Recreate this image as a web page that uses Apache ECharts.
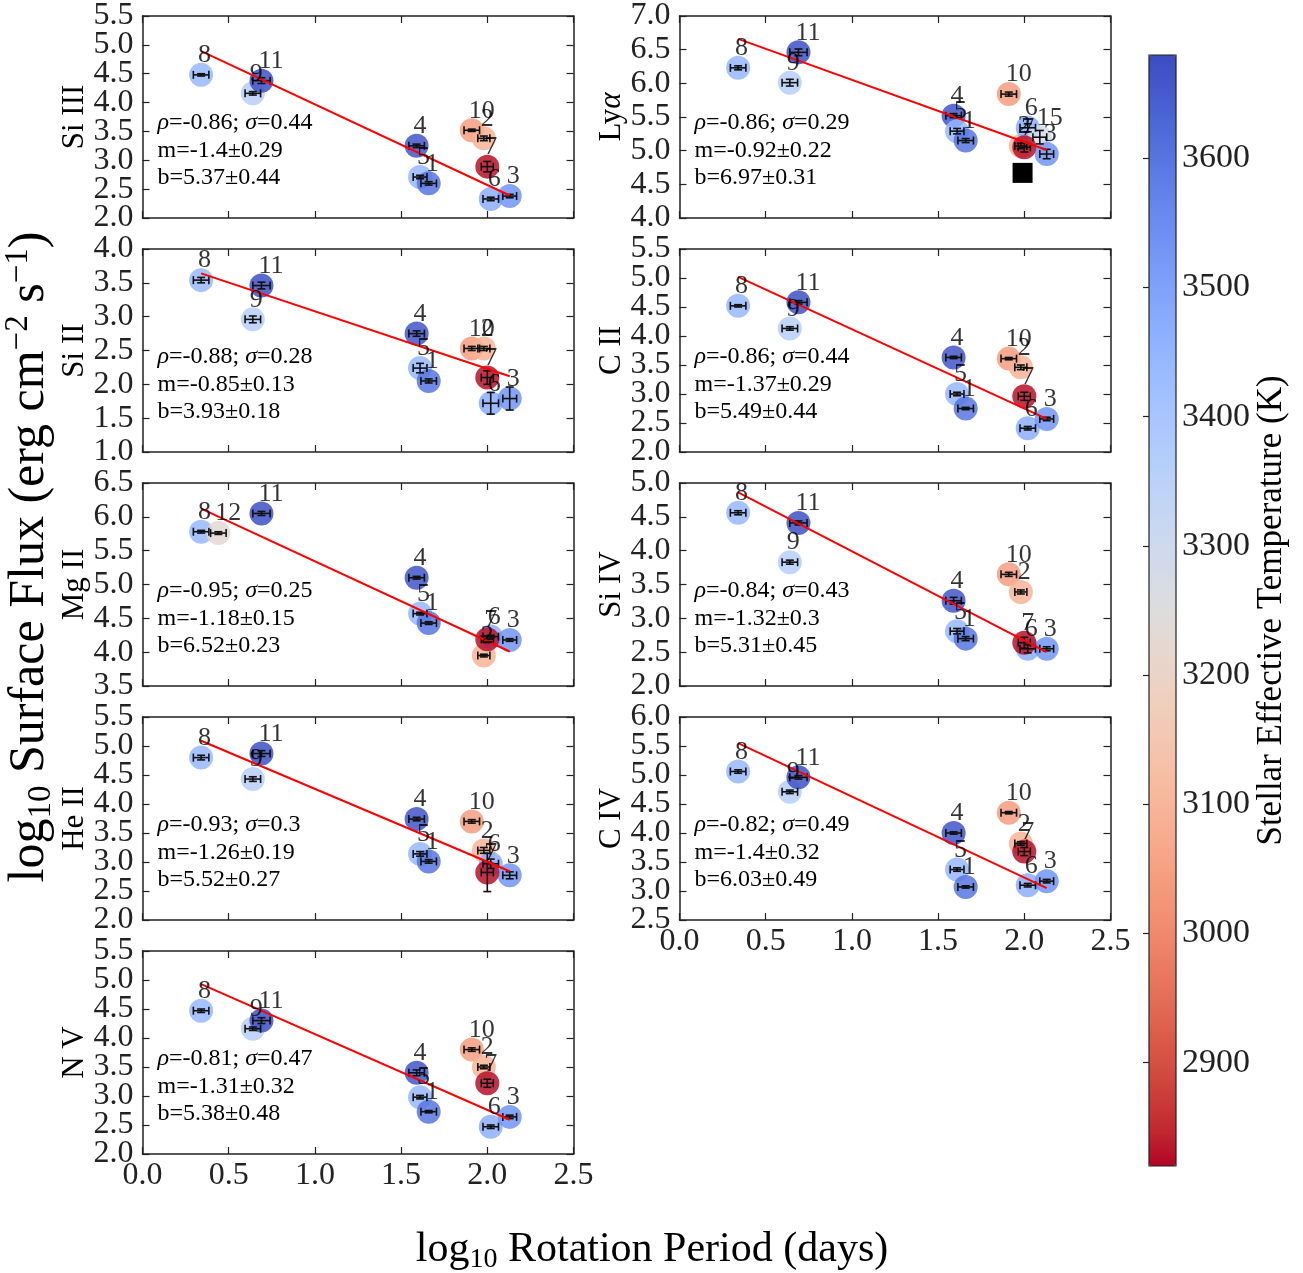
<!DOCTYPE html>
<html>
<head>
<meta charset="utf-8">
<script src="https://cdn.jsdelivr.net/npm/echarts@6/dist/echarts.min.js"></script>
<style>
html,body{margin:0;padding:0;background:#fff;}
#chart{width:1303px;height:1273px;}
</style>
</head>
<body>
<div id="chart"></div>
<script>
// ---------------- data ----------------
const starLabels   = ['8','12','9','11','4','5','1','10','2','6','15','3','7'];
const logPeriod    = [0.34,0.44,0.64,0.69,1.59,1.61,1.66,1.91,1.98,2.02,2.09,2.13,2.00];
const logPeriodErr = [0.045,0.045,0.045,0.05,0.045,0.04,0.045,0.045,0.035,0.045,0.04,0.04,0.035];
const teff         = [3440,3225,3360,3670,3660,3440,3600,3045,3095,3470,3285,3530,2830];

const fluxSiIII = [4.48,null,4.16,4.38,3.25,2.71,2.60,3.52,3.38,2.33,null,2.38,2.89];
const fluxSiII  = [3.54,null,2.96,3.46,2.75,2.24,2.05,2.53,2.53,1.72,null,1.79,2.10];
const fluxMgII  = [5.78,5.76,null,6.05,5.10,4.57,4.43,null,3.95,4.23,null,4.18,4.19];
const fluxHeII  = [4.80,null,4.43,4.87,3.74,3.14,3.01,3.70,3.20,2.97,null,2.77,2.82];
const fluxNV    = [4.47,null,4.16,4.30,3.40,2.98,2.73,3.80,3.50,2.47,null,2.64,3.22];
const fluxLya   = [6.23,null,6.01,6.46,5.52,5.29,5.15,5.84,5.07,5.34,5.20,4.95,5.05];
const fluxCII   = [4.52,null,4.13,4.58,3.63,3.00,2.75,3.61,3.46,2.41,null,2.57,2.96];
const fluxSiIV  = [4.56,null,3.83,4.41,3.26,2.81,2.70,3.65,3.39,2.55,null,2.55,2.64];
const fluxCIV   = [5.06,null,4.71,4.96,4.00,3.37,3.07,4.35,3.82,3.10,null,3.17,3.68];

const errSiIII = [0.02,null,0.03,0.05,0.03,0.03,0.03,0.02,0.04,0.03,null,0.03,0.09];
const errSiII  = [0.04,null,0.05,0.05,0.04,0.07,0.03,0.03,0.03,0.16,null,0.17,0.10];
const errMgII  = [0.02,0.02,null,0.03,0.02,0.02,0.02,null,0.02,0.02,null,0.02,0.05];
const errHeII  = [0.04,null,0.04,0.05,0.03,0.04,0.03,0.03,0.05,0.08,null,0.06,0.33];
const errNV    = [0.03,null,0.03,0.05,0.05,0.03,0.02,0.03,0.03,0.03,null,0.03,0.07];
const errLya   = [0.03,null,0.05,0.05,0.03,0.04,0.03,0.03,0.04,0.06,0.10,0.07,0.07];
const errCII   = [0.02,null,0.03,0.03,0.02,0.03,0.02,0.02,0.04,0.03,null,0.03,0.07];
const errSiIV  = [0.03,null,0.03,0.03,0.05,0.04,0.03,0.03,0.03,0.06,null,0.03,0.08];
const errCIV   = [0.03,null,0.03,0.03,0.02,0.03,0.02,0.02,0.03,0.03,null,0.03,0.07];

// reference point (black square) in the Ly-alpha panel
const refPeriod = [1.99];
const refLya    = [4.67];

// fitted lines: endpoints
const fitX      = [0.34, 2.13];
const fitSiIII  = [4.89, 2.39];
const fitSiII   = [3.64, 2.12];
const fitMgII   = [6.12, 4.01];
const fitHeII   = [5.09, 2.84];
const fitNV     = [4.93, 2.59];
const fitLya    = [6.66, 5.01];
const fitCII    = [5.02, 2.57];
const fitSiIV   = [4.86, 2.50];
const fitCIV    = [5.55, 3.05];

// panel texts / axis ranges
const panelNames = ['Si III','Si II','Mg II','He II','N V','Ly{a|α}','C II','Si IV','C IV'];
const panelYMin  = [2.0,1.0,3.5,2.0,2.0,4.0,2.0,2.0,2.5];
const panelYMax  = [5.5,4.0,6.5,5.5,5.5,7.0,5.5,5.0,6.0];
const rhoVals    = [-0.86,-0.88,-0.95,-0.93,-0.81,-0.86,-0.86,-0.84,-0.82];
const sigmaVals  = [0.44,0.28,0.25,0.3,0.47,0.29,0.44,0.43,0.49];
const slopeVals  = [-1.4,-0.85,-1.18,-1.26,-1.31,-0.92,-1.37,-1.32,-1.4];
const slopeErrs  = [0.29,0.13,0.15,0.19,0.32,0.22,0.29,0.3,0.32];
const icptVals   = [5.37,3.93,6.52,5.52,5.38,6.97,5.49,5.31,6.03];
const icptErrs   = [0.44,0.18,0.23,0.27,0.48,0.31,0.44,0.45,0.49];
const xTicksLabels = ['0.0','0.5','1.0','1.5','2.0','2.5'];
const yTickStep  = 0.5;
const cbarTicks  = [2900,3000,3100,3200,3300,3400,3500,3600];
const cbarMin = 2820, cbarMax = 3680;

const fluxByPanel = [fluxSiIII,fluxSiII,fluxMgII,fluxHeII,fluxNV,fluxLya,fluxCII,fluxSiIV,fluxCIV];
const errByPanel  = [errSiIII,errSiII,errMgII,errHeII,errNV,errLya,errCII,errSiIV,errCIV];
const fitByPanel  = [fitSiIII,fitSiII,fitMgII,fitHeII,fitNV,fitLya,fitCII,fitSiIV,fitCIV];

// coolwarm (Moreland) reversed: low temperature -> red, high -> blue
const coolwarm = ['#3b4cc0','#445acc','#4d68d7','#5775e1','#6282ea','#6c8ef1','#779af7','#82a5fb',
  '#8db0fe','#98b9ff','#a3c2ff','#aec9fd','#b8d0f9','#c2d5f4','#ccd9ee','#d5dbe6','#dddddd',
  '#e5d8d1','#ecd3c5','#f1ccb9','#f5c4ad','#f7bba0','#f7b194','#f7a687','#f49a7b','#f18d6f',
  '#ec7f63','#e57058','#de604d','#d55042','#cb3e38','#c0282f','#b40426'];
const coolwarmR = coolwarm.slice().reverse();

// ---------------- layout ----------------
const FONT = '"Liberation Serif","Times New Roman",serif';
const COL_LEFT = [142.5, 679.5];
const PANEL_W = 431, PANEL_H = 203, TOP0 = 15, PITCH = 234;
const AX = '#222';

const option = {
  animation: false,
  backgroundColor: '#ffffff',
  grid: [], xAxis: [], yAxis: [], series: [], graphic: []
};
const scatterIdx = [];

function renderErr(params, api) {
  const x = api.value(0), y = api.value(1), xe = api.value(2), ye = api.value(3);
  const c = api.coord([x, y]);
  const l = api.coord([x - xe, y]), r = api.coord([x + xe, y]);
  const t = api.coord([x, y + ye]), b = api.coord([x, y - ye]);
  const cap = 4;
  const st = {stroke: '#111', lineWidth: 1.6};
  return {type: 'group', children: [
    {type:'line', shape:{x1:l[0],y1:c[1],x2:r[0],y2:c[1]}, style:st},
    {type:'line', shape:{x1:l[0],y1:c[1]-cap,x2:l[0],y2:c[1]+cap}, style:st},
    {type:'line', shape:{x1:r[0],y1:c[1]-cap,x2:r[0],y2:c[1]+cap}, style:st},
    {type:'line', shape:{x1:c[0],y1:t[1],x2:c[0],y2:b[1]}, style:st},
    {type:'line', shape:{x1:c[0]-cap,y1:t[1],x2:c[0]+cap,y2:t[1]}, style:st},
    {type:'line', shape:{x1:c[0]-cap,y1:b[1],x2:c[0]+cap,y2:b[1]}, style:st}
  ]};
}

for (let p = 0; p < 9; p++) {
  const col = p < 5 ? 0 : 1;
  const row = p < 5 ? p : p - 5;
  const left = COL_LEFT[col];
  const top = TOP0 + PITCH * row;
  const bottomPanel = (p === 4 || p === 8);
  option.grid.push({left: left, top: top, width: PANEL_W, height: PANEL_H});

  const axLine = {show: true, onZero: false, lineStyle: {color: AX, width: 1.5}};
  const tick = {show: true, inside: true, length: 7, lineStyle: {color: AX, width: 1.2}};
  option.xAxis.push({
    type: 'value', gridIndex: p, position: 'bottom', min: 0, max: 2.5, interval: 0.5,
    axisLine: axLine, axisTick: tick, splitLine: {show: false},
    axisLabel: {show: bottomPanel, margin: 6, fontFamily: FONT, fontSize: 32, color: AX,
      showMinLabel: true, showMaxLabel: true,
      formatter: v => xTicksLabels[Math.round(v / 0.5)]}
  });
  option.xAxis.push({
    type: 'value', gridIndex: p, position: 'top', min: 0, max: 2.5, interval: 0.5,
    axisLine: axLine, axisTick: tick, splitLine: {show: false}, axisLabel: {show: false}
  });

  // y tick label values, split into two interleaved sets (each drawn by its own axis)
  const nT = Math.round((panelYMax[p] - panelYMin[p]) / yTickStep);
  const setA = [], setB = [];
  for (let k = 0; k <= nT; k++) {
    const v = +(panelYMin[p] + k * yTickStep).toFixed(2);
    (k % 2 === 0 ? setA : setB).push(v);
  }
  const yLab = (vals) => ({customValues: vals, margin: 9, fontFamily: FONT, fontSize: 32, color: AX,
      showMinLabel: true, showMaxLabel: true, formatter: v => v.toFixed(1)});

  option.yAxis.push({
    type: 'value', gridIndex: p, position: 'left', min: panelYMin[p], max: panelYMax[p], interval: yTickStep,
    axisLine: axLine, axisTick: tick, splitLine: {show: false},
    axisLabel: yLab(setA),
    name: panelNames[p], nameLocation: 'middle', nameGap: 52, nameRotate: 90, nameMoveOverlap: false,
    nameTextStyle: {fontFamily: FONT, fontSize: 31, color: '#000',
      rich: {a: {fontFamily: FONT, fontSize: 31, fontStyle: 'italic', color: '#000'}}}
  });
  option.yAxis.push({
    type: 'value', gridIndex: p, position: 'left', offset: 0, min: panelYMin[p], max: panelYMax[p], interval: yTickStep,
    axisLine: {show: false}, axisTick: {show: false}, splitLine: {show: false},
    axisLabel: yLab(setB)
  });
  option.yAxis.push({
    type: 'value', gridIndex: p, position: 'right', min: panelYMin[p], max: panelYMax[p], interval: yTickStep,
    axisLine: axLine, axisTick: tick, splitLine: {show: false}, axisLabel: {show: false}
  });
  const yi = 3 * p;

  const flux = fluxByPanel[p], ferr = errByPanel[p];
  const idx = [];
  for (let i = 0; i < starLabels.length; i++) if (flux[i] !== null) idx.push(i);

  scatterIdx.push(option.series.length);
  option.series.push({
    type: 'scatter', xAxisIndex: 2 * p, yAxisIndex: yi, z: 2, silent: true,
    symbolSize: 24, itemStyle: {opacity: 0.85},
    data: idx.map(i => ({value: [logPeriod[i], flux[i], teff[i]], name: starLabels[i]}))
  });
  if (p === 5) {
    option.series.push({
      type: 'scatter', xAxisIndex: 2 * p, yAxisIndex: yi, z: 3, silent: true,
      symbol: 'rect', symbolSize: 20, itemStyle: {color: '#000', opacity: 1},
      data: refPeriod.map((x, k) => [x, refLya[k]])
    });
  }
  option.series.push({
    type: 'custom', xAxisIndex: 2 * p, yAxisIndex: yi, z: 3, silent: true,
    renderItem: renderErr, encode: {x: 0, y: 1},
    data: idx.map(i => [logPeriod[i], flux[i], logPeriodErr[i], ferr[i]])
  });
  option.series.push({
    type: 'line', xAxisIndex: 2 * p, yAxisIndex: yi, z: 4, silent: true,
    symbol: 'none', lineStyle: {color: '#ff0000', width: 2},
    data: fitX.map((x, k) => [x, fitByPanel[p][k]])
  });
  option.series.push({
    type: 'scatter', xAxisIndex: 2 * p, yAxisIndex: yi, z: 5, silent: true,
    symbolSize: 1, itemStyle: {color: 'rgba(0,0,0,0)'},
    label: {show: true, formatter: '{b}', position: [-2.5, -19], align: 'left', verticalAlign: 'middle',
      fontFamily: FONT, fontSize: 26, color: '#000'},
    data: idx.map(i => ({value: [logPeriod[i], flux[i]], name: starLabels[i]}))
  });

  // statistics text
  const tx = left + 15;
  const lines = [
    '{i|ρ}=' + rhoVals[p] + '; {i|σ}=' + sigmaVals[p],
    'm=' + slopeVals[p] + '±' + slopeErrs[p],
    'b=' + icptVals[p] + '±' + icptErrs[p]
  ];
  lines.forEach((s, k) => {
    option.graphic.push({
      type: 'text', x: tx, y: top + 108 + 27.5 * k, z: 20, silent: true,
      style: {text: s, fontFamily: FONT, fontSize: 24, fill: '#000',
        textAlign: 'left', textVerticalAlign: 'middle',
        rich: {i: {fontFamily: FONT, fontSize: 24, fontStyle: 'italic', fill: '#000'}}}
    });
  });
}

// colour bar
const cbLeft = 1149, cbTop = 55, cbW = 27, cbH = 1111;
option.visualMap = {
  type: 'continuous', min: cbarMin, max: cbarMax, dimension: 2, seriesIndex: scatterIdx,
  inRange: {color: coolwarmR}, left: cbLeft, top: cbTop, itemWidth: cbW, itemHeight: cbH,
  calculable: false, hoverLink: false, orient: 'vertical', padding: 0, show: true
};
option.grid.push({left: cbLeft, top: cbTop, width: cbW, height: cbH, show: true, z: 10,
  borderColor: AX, borderWidth: 1.2, backgroundColor: 'transparent'});
option.xAxis.push({type: 'value', gridIndex: 9, min: 0, max: 1, show: false});
option.yAxis.push({
  type: 'value', gridIndex: 9, position: 'right', min: cbarMin, max: cbarMax, z: 10,
  axisLine: {show: false}, splitLine: {show: false},
  axisTick: {show: true, inside: true, length: 6, customValues: cbarTicks, lineStyle: {color: AX, width: 1.2}},
  axisLabel: {customValues: cbarTicks, margin: 6, fontFamily: FONT, fontSize: 34, color: AX,
    formatter: v => String(v)},
  name: 'Stellar Effective Temperature (K)', nameLocation: 'middle', nameRotate: 90, nameGap: 76,
  nameTextStyle: {fontFamily: FONT, fontSize: 35, color: '#000'}
});

// global axis titles
option.graphic.push({
  type: 'text', x: 30, y: 557, rotation: Math.PI / 2, silent: true,
  style: {text: 'log{s|10} Surface Flux (erg cm{p|−2} s{p|−1})', fontFamily: FONT, fontSize: 50, lineHeight: 56,
    fill: '#000', textAlign: 'center', textVerticalAlign: 'middle',
    rich: {s: {fontFamily: FONT, fontSize: 33, lineHeight: 33, verticalAlign: 'bottom', fill: '#000'},
           p: {fontFamily: FONT, fontSize: 33, lineHeight: 33, verticalAlign: 'top', fill: '#000'}}}
});
option.graphic.push({
  type: 'text', x: 652, y: 1250, silent: true,
  style: {text: 'log{s|10} Rotation Period (days)', fontFamily: FONT, fontSize: 42, lineHeight: 48,
    fill: '#000', textAlign: 'center', textVerticalAlign: 'middle',
    rich: {s: {fontFamily: FONT, fontSize: 28, lineHeight: 28, verticalAlign: 'bottom', fill: '#000'}}}
});

const chart = echarts.init(document.getElementById('chart'), null, {renderer: 'canvas'});
chart.setOption(option);
</script>
</body>
</html>
